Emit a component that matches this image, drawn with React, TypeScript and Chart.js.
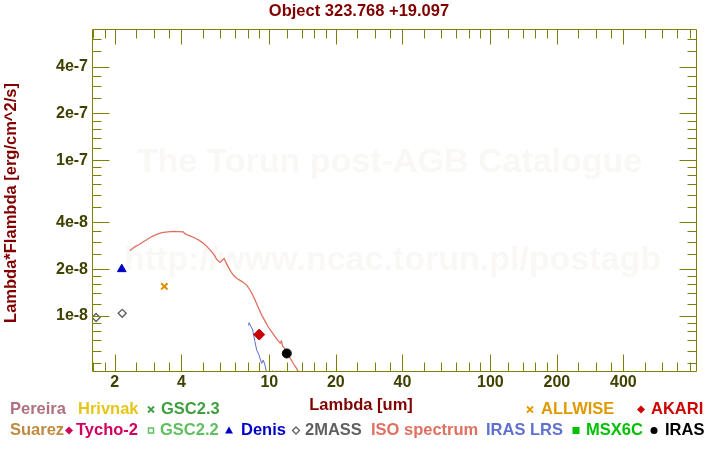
import React, { useEffect, useRef } from "react";
import { Chart, registerables } from "chart.js";
Chart.register(...registerables);

const FONT = "'Liberation Sans', Arial, Helvetica, sans-serif";

// ---- texts ----
const titleText = "Object 323.768 +19.097";
const xAxisTitle = "Lambda [um]";
const yAxisTitle = "Lambda*Flambda [erg/cm^2/s]";
const watermarkLines = ["The Torun post-AGB Catalogue", "http://www.ncac.torun.pl/postagb"];

// ---- axes ----
const xRange = [1.577, 861];
const yRange = [4.37e-9, 6.87e-7];
const xTickValues = [2, 4, 10, 20, 40, 100, 200, 400];
const xTickLabels = ["2", "4", "10", "20", "40", "100", "200", "400"];
const xMinorTicks = [1.6, 1.8, 2.5, 3, 3.5, 5, 6, 7, 8, 9, 12, 14, 16, 18, 25, 30, 35, 50, 60, 70, 80, 90,
  120, 140, 160, 180, 250, 300, 350, 500, 600, 700, 800];
const yTickValues = [1e-8, 2e-8, 4e-8, 1e-7, 2e-7, 4e-7];
const yTickLabels = ["1e-8", "2e-8", "4e-8", "1e-7", "2e-7", "4e-7"];
const yMinorTicks = [5e-9, 6e-9, 7e-9, 8e-9, 9e-9, 1.2e-8, 1.4e-8, 1.6e-8, 1.8e-8, 2.5e-8, 3e-8, 3.5e-8,
  5e-8, 6e-8, 7e-8, 8e-8, 9e-8, 1.2e-7, 1.4e-7, 1.6e-7, 1.8e-7, 2.5e-7, 3e-7, 3.5e-7, 5e-7, 6e-7];

// ---- photometry ----
const denisLambda = [2.15];
const denisFlux = [2.0e-8];
const twomassLambda = [1.645, 2.16];
const twomassFlux = [9.8e-9, 1.04e-8];
const allwiseLambda = [3.35];
const allwiseFlux = [1.55e-8];
const akariLambda = [9.0];
const akariFlux = [7.6e-9];
const irasLambda = [12.0];
const irasFlux = [5.75e-9];

// ---- ISO spectrum ----
const isoLambda = [2.34, 2.40, 2.47, 2.58, 2.69, 2.80, 2.94, 3.10, 3.26, 3.40, 3.56, 3.72, 3.88, 4.08, 4.15,
  4.23, 4.40, 4.61, 4.82, 5.03, 5.25, 5.48, 5.65, 5.78, 5.98, 6.10, 6.25, 6.40, 6.52, 6.70, 6.90, 7.11,
  7.50, 7.90, 8.18, 8.40, 8.61, 8.90, 9.25, 9.55, 9.90, 10.2, 10.6, 10.9, 11.2, 11.35, 11.5, 11.8, 12.0,
  12.3, 12.6, 12.9, 13.1, 13.3, 13.5, 13.7, 14.0];
const isoFlux = [2.63e-8, 2.70e-8, 2.79e-8, 2.88e-8, 3.00e-8, 3.10e-8, 3.24e-8, 3.34e-8, 3.43e-8, 3.46e-8,
  3.48e-8, 3.49e-8, 3.48e-8, 3.47e-8, 3.38e-8, 3.33e-8, 3.26e-8, 3.17e-8, 3.06e-8, 2.93e-8, 2.77e-8,
  2.59e-8, 2.45e-8, 2.31e-8, 2.21e-8, 2.27e-8, 2.34e-8, 2.17e-8, 2.07e-8, 1.93e-8, 1.82e-8, 1.75e-8,
  1.67e-8, 1.58e-8, 1.47e-8, 1.37e-8, 1.27e-8, 1.14e-8, 1.01e-8, 9.3e-9, 8.5e-9, 8.0e-9, 7.4e-9,
  7.0e-9, 6.7e-9, 6.9e-9, 6.4e-9, 6.1e-9, 5.9e-9, 5.5e-9, 5.2e-9, 4.9e-9, 4.75e-9, 4.6e-9, 4.4e-9,
  4.15e-9, 3.9e-9];

// ---- IRAS LRS ----
const lrsLambda = [8.02, 8.09, 8.25, 8.41, 8.61, 8.77, 8.95, 9.08, 9.24, 9.39, 9.56, 9.66, 9.8, 10.0,
  10.2, 10.35, 10.6, 10.8, 11.0, 11.2, 11.5, 11.7];
const lrsFlux = [8.75e-9, 9.06e-9, 8.6e-9, 8.13e-9, 6.84e-9, 6.04e-9, 5.7e-9, 5.35e-9, 4.96e-9, 5.21e-9,
  4.84e-9, 4.5e-9, 4.2e-9, 4.45e-9, 4.2e-9, 4.45e-9, 4.2e-9, 4.45e-9, 4.15e-9, 4.45e-9, 4.2e-9, 4.45e-9];

// ---- legend ----
const legendNames = ["Pereira", "Hrivnak", "GSC2.3", "ALLWISE", "AKARI", "Suarez", "Tycho-2", "GSC2.2",
  "Denis", "2MASS", "ISO spectrum", "IRAS LRS", "MSX6C", "IRAS"];
const legendColors = ["#b07080", "#e6c619", "#40a040", "#e09a00", "#d00000", "#c08a40", "#d00060",
  "#60c060", "#0000c8", "#606060", "#e07060", "#6070d0", "#00c000", "#000000"];
const legendMarkers = ["", "", "cross", "cross", "diamond", "", "diamond", "squareOpen", "triangle",
  "diamondOpen", "", "", "square", "circle"];
// [text x, centre y, marker x]
const legendLayout: number[][] = [
  [10, 409.5, 0], [78, 409.5, 0], [161, 409.5, 151], [541, 409.5, 530], [651, 409.5, 641],
  [10, 430.5, 0], [76, 430.5, 69], [160, 430.5, 151], [241, 430.5, 229], [305, 430.5, 296],
  [371, 430.5, 0], [486, 430.5, 0], [586, 430.5, 576], [665, 430.5, 654],
];

const pts = (xs: number[], ys: number[]) => xs.map((x, i) => ({ x, y: ys[i] }));

function drawMarker(ctx: CanvasRenderingContext2D, kind: string, x: number, y: number, color: string) {
  ctx.save();
  ctx.fillStyle = color;
  ctx.strokeStyle = color;
  ctx.beginPath();
  if (kind === "cross") {
    ctx.lineWidth = 1.8;
    ctx.moveTo(x - 3, y - 3); ctx.lineTo(x + 3, y + 3);
    ctx.moveTo(x + 3, y - 3); ctx.lineTo(x - 3, y + 3);
    ctx.stroke();
  } else if (kind === "diamond") {
    ctx.moveTo(x, y - 4); ctx.lineTo(x + 4, y); ctx.lineTo(x, y + 4); ctx.lineTo(x - 4, y);
    ctx.closePath(); ctx.fill();
  } else if (kind === "diamondOpen") {
    ctx.lineWidth = 1.3;
    ctx.moveTo(x, y - 3.5); ctx.lineTo(x + 3.5, y); ctx.lineTo(x, y + 3.5); ctx.lineTo(x - 3.5, y);
    ctx.closePath(); ctx.stroke();
  } else if (kind === "squareOpen") {
    ctx.lineWidth = 1.5;
    ctx.strokeRect(x - 2.5, y - 2.5, 5, 5);
  } else if (kind === "square") {
    ctx.fillRect(x - 3.5, y - 3.5, 7, 7);
  } else if (kind === "triangle") {
    ctx.moveTo(x, y - 4); ctx.lineTo(x + 4, y + 3); ctx.lineTo(x - 4, y + 3);
    ctx.closePath(); ctx.fill();
  } else if (kind === "circle") {
    ctx.arc(x, y, 3.5, 0, Math.PI * 2); ctx.fill();
  }
  ctx.restore();
}

const decorPlugin = {
  id: "decor",
  beforeDatasetsDraw(chart: any) {
    const ctx = chart.ctx as CanvasRenderingContext2D;
    const ca = chart.chartArea;
    ctx.save();
    ctx.font = `bold 34px ${FONT}`;
    ctx.fillStyle = "#faf8f5";
    ctx.textAlign = "center";
    ctx.textBaseline = "middle";
    const cx = (ca.left + ca.right) / 2;
    ctx.fillText(watermarkLines[0], cx - 5, 163);
    ctx.fillText(watermarkLines[1], cx - 2, 261);
    ctx.restore();
  },
  afterDraw(chart: any) {
    const ctx = chart.ctx as CanvasRenderingContext2D;
    const ca = chart.chartArea;
    const xs = chart.scales.x;
    const ys = chart.scales.y;
    const L = ca.left + 0.5, R = ca.right - 0.5, T = ca.top - 0.5, B = ca.bottom - 0.5;
    ctx.save();
    ctx.strokeStyle = "#808000";
    ctx.lineWidth = 1;
    ctx.beginPath();
    ctx.rect(L, T, R - L, B - T);
    const xt = (v: number, len: number, topLen: number) => {
      const p = xs.getPixelForValue(v);
      if (p <= ca.left + 0.5 || p >= ca.right - 0.5) return;
      const px = Math.round(p) + 0.5;
      ctx.moveTo(px, B); ctx.lineTo(px, B - len);
      ctx.moveTo(px, T); ctx.lineTo(px, T + topLen);
    };
    const yt = (v: number, len: number) => {
      const p = ys.getPixelForValue(v);
      if (p <= ca.top || p >= ca.bottom) return;
      const py = Math.round(p) + 0.5;
      ctx.moveTo(L, py); ctx.lineTo(L + len, py);
      ctx.moveTo(R, py); ctx.lineTo(R - len, py);
    };
    xTickValues.forEach((v) => xt(v, 17, 15));
    xMinorTicks.forEach((v) => xt(v, 9, 9));
    yTickValues.forEach((v) => yt(v, 17));
    yMinorTicks.forEach((v) => yt(v, 9));
    ctx.stroke();
    ctx.restore();

    // titles
    ctx.save();
    ctx.font = `bold 16.5px ${FONT}`;
    ctx.fillStyle = "#800000";
    ctx.textAlign = "center";
    ctx.textBaseline = "middle";
    ctx.fillText(titleText, 359, 11);
    ctx.fillText(xAxisTitle, 361, 405.5);
    ctx.translate(11, 203);
    ctx.rotate(-Math.PI / 2);
    ctx.fillText(yAxisTitle, 0, 0);
    ctx.restore();

    // legend
    ctx.save();
    ctx.font = `bold 16.5px ${FONT}`;
    ctx.textAlign = "left";
    ctx.textBaseline = "middle";
    legendNames.forEach((name, i) => {
      const [tx, ty, mx] = legendLayout[i];
      const color = legendColors[i];
      if (legendMarkers[i]) drawMarker(ctx, legendMarkers[i], mx, ty, color);
      ctx.fillStyle = color;
      ctx.fillText(name, tx, ty);
    });
    ctx.restore();
  },
};

export default function App() {
  const ref = useRef<HTMLCanvasElement>(null);
  useEffect(() => {
    Chart.defaults.font.family = FONT;
    const tickFont = { family: FONT, size: 16, weight: "bold" as const };
    const chart = new Chart(ref.current!, {
      type: "scatter",
      data: {
        datasets: [
          { label: "IRAS", data: pts(irasLambda, irasFlux), pointStyle: "circle", pointRadius: 4.5,
            backgroundColor: "#000000", borderColor: "#000000", borderWidth: 1 },
          { label: "AKARI", data: pts(akariLambda, akariFlux), pointStyle: "rectRot", pointRadius: 5.5,
            backgroundColor: "#c80000", borderColor: "#c80000", borderWidth: 1 },
          { label: "ALLWISE", data: pts(allwiseLambda, allwiseFlux), pointStyle: "crossRot", pointRadius: 4.5,
            backgroundColor: "#e09000", borderColor: "#e09000", borderWidth: 2 },
          { label: "2MASS", data: pts(twomassLambda, twomassFlux), pointStyle: "rectRot", pointRadius: 4,
            backgroundColor: "rgba(255,255,255,0)", borderColor: "#606060", borderWidth: 1.4 },
          { label: "Denis", data: pts(denisLambda, denisFlux), pointStyle: "triangle", pointRadius: 5,
            backgroundColor: "#0000c0", borderColor: "#0000c0", borderWidth: 1 },
          { label: "IRAS LRS", data: pts(lrsLambda, lrsFlux), showLine: true, pointRadius: 0,
            borderColor: "#5a6ad0", borderWidth: 1, clip: 0 },
          { label: "ISO spectrum", data: pts(isoLambda, isoFlux), showLine: true, pointRadius: 0,
            borderColor: "#e07060", borderWidth: 1.3, clip: 0 },
        ] as any,
      },
      options: {
        responsive: false,
        animation: false,
        devicePixelRatio: 1,
        events: [],
        layout: { padding: { top: 30, right: 23, left: 0, bottom: 0 } },
        plugins: { legend: { display: false }, tooltip: { enabled: false }, title: { display: false } },
        scales: {
          x: {
            type: "logarithmic",
            position: "bottom",
            min: xRange[0],
            max: xRange[1],
            grid: { display: false, drawTicks: false },
            border: { display: false },
            ticks: {
              font: tickFont, color: "#404000", padding: 1, autoSkip: false, maxRotation: 0,
              callback: (v: any) => xTickLabels[xTickValues.indexOf(Number(v))] ?? "",
            },
            afterBuildTicks: (s: any) => { s.ticks = xTickValues.map((v) => ({ value: v })); },
            afterFit: (s: any) => { s.height = 78; },
          },
          y: {
            type: "logarithmic",
            position: "left",
            min: yRange[0],
            max: yRange[1],
            grid: { display: false, drawTicks: false },
            border: { display: false },
            ticks: {
              font: tickFont, color: "#404000", padding: 4, autoSkip: false,
              callback: (v: any) => yTickLabels[yTickValues.indexOf(Number(v))] ?? "",
            },
            afterBuildTicks: (s: any) => { s.ticks = yTickValues.map((v) => ({ value: v })); },
            afterFit: (s: any) => { s.width = 92; },
          },
        },
      } as any,
      plugins: [decorPlugin],
    });
    return () => chart.destroy();
  }, []);
  return (
    <div style={{ position: "absolute", left: 0, top: 0, width: 720, height: 450, background: "#ffffff" }}>
      <canvas ref={ref} width={720} height={450} style={{ display: "block", width: 720, height: 450 }} />
    </div>
  );
}
